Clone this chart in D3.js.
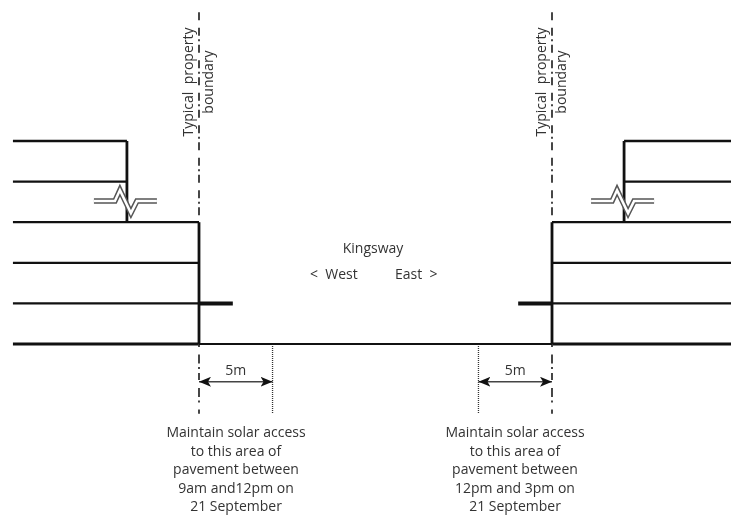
<!DOCTYPE html>
<html>
<head>
<meta charset="utf-8">
<script src="https://d3js.org/d3.v7.min.js"></script>
<style>
	body { margin: 0; background: #fff; }
	svg { display: block; filter: blur(0.4px); }
	text { font-family: "Open Sans", sans-serif; font-size: 14px; fill: #333; white-space: pre; }
</style>
</head>
<body>
<div id="chart"></div>
<script>
// Section through the street, x in metres from west boundary, y in storeys above pavement
var streetWidth = 24
var floorLevels = [0, 1, 2, 3]
var upperLevels = [4, 5]
var buildingDepth = 12.65
var upperSetback = 4.9
var awningLength = 2.3
var solarDistance = 5
var awningLevel = 1
var boundaryTop = 8.17
var boundaryBottom = -1.72
var dimensionLevel = -0.93
var boundaryLabel = ["Typical  property", "boundary"]
var westNote = ["Maintain solar access", "to this area of", "pavement between", "9am and12pm on", "21 September"]
var eastNote = ["Maintain solar access", "to this area of", "pavement between", "12pm and 3pm on", "21 September"]

var width = 731, height = 515

var x = d3.scaleLinear().domain([0, streetWidth]).range([199, 552])
var y = d3.scaleLinear().domain([0, 5]).range([344, 141])

var svg = d3.select("#chart").append("svg")
	.attr("width", width)
	.attr("height", height)

svg.append("defs").append("marker")
	.attr("id", "head")
	.attr("viewBox", "0 0 12 10")
	.attr("refX", 12)
	.attr("refY", 5)
	.attr("markerWidth", 12)
	.attr("markerHeight", 10)
	.attr("markerUnits", "userSpaceOnUse")
	.attr("orient", "auto-start-reverse")
	.append("path")
	.attr("d", "M0,0L12,5L0,10L3,5Z")
	.attr("fill", "#111")

function seg(x1, y1, x2, y2, w) {
	return svg.append("line")
		.attr("x1", x(x1)).attr("y1", y(y1))
		.attr("x2", x(x2)).attr("y2", y(y2))
		.attr("stroke", "#111")
		.attr("stroke-width", w)
}

// one side of the street; dir points away from the road
function side(edge, dir) {
	var far = edge + dir * buildingDepth
	var setback = edge + dir * upperSetback

	floorLevels.forEach(function(l) {
		seg(edge, l, far, l, l == 0 ? 3.2 : 2.3)
	})
	upperLevels.forEach(function(l) {
		seg(setback, l, far, l, 2.3)
	})

	seg(edge, 0, edge, 3, 2.8)
	seg(setback, 3, setback, 5, 2.8)

	// awning
	seg(edge, awningLevel, edge - dir * awningLength, awningLevel, 4)

	// property boundary, above and below the building
	seg(edge, 3, edge, boundaryTop, 1.8)
		.attr("stroke-dasharray", "8,3.5,2,3.5,8,7.5")
		.attr("stroke-dashoffset", 25.5)
		.attr("stroke", "#333")
	seg(edge, 0, edge, boundaryBottom, 1.8)
		.attr("stroke-dasharray", "3,7.5,9,3.5,2,4,7,8,9,3.5,2,7,6")
		.attr("stroke", "#333")

	// solar access line
	var solarX = edge - dir * solarDistance
	seg(solarX, 0, solarX, boundaryBottom, 1.3).attr("stroke-dasharray", "1,1").attr("stroke", "#333")

	// 5m dimension
	seg(edge, dimensionLevel, solarX, dimensionLevel, 1.4)
		.attr("stroke", "#444")
		.attr("marker-start", "url(#head)")
		.attr("marker-end", "url(#head)")

	svg.append("text")
		.attr("x", (x(edge) + x(solarX)) / 2)
		.attr("y", y(dimensionLevel) - 7)
		.attr("text-anchor", "middle")
		.text("5m")

	// break line across the setback wall
	var bx = x(setback), by = y(3.52)
	var breakPts = [[-33, 0], [-12, 0], [-7, -11], [4, 12], [10, 0], [30, 0]]
	var brk = d3.line()
		.x(function(p) { return bx + p[0] })
		.y(function(p) { return by + p[1] })
	svg.append("path").attr("d", brk(breakPts)).attr("fill", "none").attr("stroke", "#555").attr("stroke-width", 5.5)
	svg.append("path").attr("d", brk(breakPts)).attr("fill", "none").attr("stroke", "#fff").attr("stroke-width", 2.5)

	// rotated boundary label
	svg.selectAll(null)
		.data(boundaryLabel)
		.enter().append("text")
		.attr("text-anchor", "middle")
		.attr("transform", function(d, i) {
			return "translate(" + (x(edge) - 6 + i * 20) + ",82) rotate(-90)"
		})
		.text(function(d) { return d })
}

side(0, -1)
side(streetWidth, 1)

// road between the two buildings
seg(0, 0, streetWidth, 0, 2)

function note(lines, cx) {
	svg.selectAll(null)
		.data(lines)
		.enter().append("text")
		.attr("x", cx)
		.attr("y", function(d, i) { return 437 + i * 18.5 })
		.attr("text-anchor", "middle")
		.text(function(d) { return d })
}
note(westNote, 236)
note(eastNote, 515)

svg.append("text").attr("x", 373).attr("y", 253).attr("text-anchor", "middle").text("Kingsway")
svg.append("text").attr("x", 310).attr("y", 279).text("<  West")
svg.append("text").attr("x", 395).attr("y", 279).text("East  >")
</script>
</body>
</html>
